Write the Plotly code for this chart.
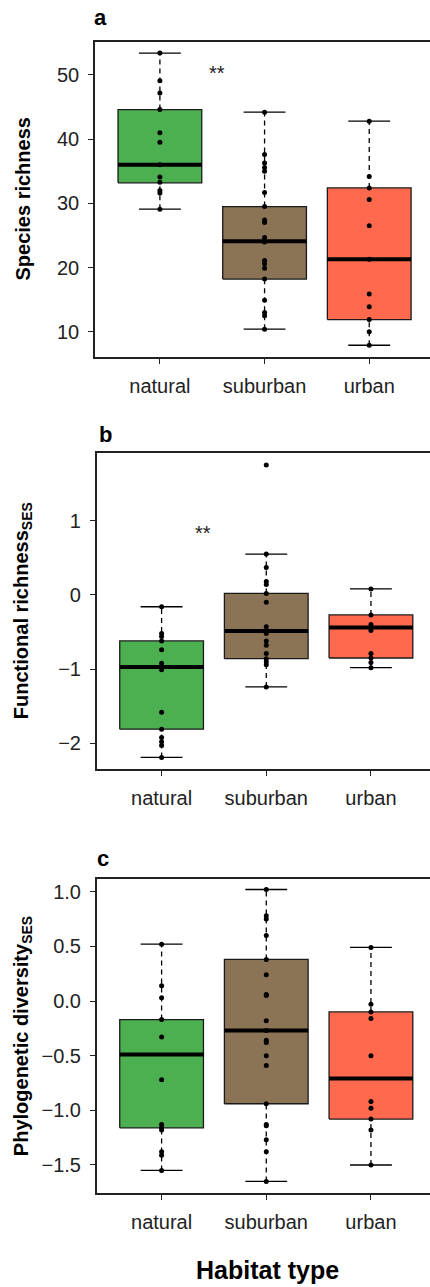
import plotly.graph_objects as go

# Habitat categories (positions 1..3 on a numeric x axis)
habitats = ["natural", "suburban", "urban"]
positions = [1, 2, 3]
fill_colors = ["#4CAF50", "#8B7355", "#FF6A4F"]

# ---- Panel a: species richness ----
rich_lower = [29.1, 10.4, 7.9]
rich_q1 = [33.2, 18.2, 11.9]
rich_median = [36.0, 24.1, 21.3]
rich_q3 = [44.6, 29.5, 32.4]
rich_upper = [53.4, 44.2, 42.8]
rich_natural = [53.4, 49.1, 47.2, 44.6, 41.0, 39.5, 36.0, 34.1, 33.3, 32.0, 31.6, 29.1]
rich_suburban = [44.2, 37.6, 36.3, 35.6, 35.0, 31.7, 29.5, 27.4, 27.0, 24.7, 24.0,
                 21.1, 20.6, 19.9, 18.2, 14.9, 13.0, 12.5, 10.4]
rich_urban = [42.8, 34.2, 32.4, 30.6, 26.5, 21.3, 15.9, 13.9, 11.9, 10.0, 7.9]

# ---- Panel b: functional richness (SES) ----
fric_lower = [-2.19, -1.24, -0.98]
fric_q1 = [-1.81, -0.86, -0.85]
fric_median = [-0.97, -0.485, -0.44]
fric_q3 = [-0.62, 0.02, -0.27]
fric_upper = [-0.16, 0.55, 0.08]
fric_natural = [-0.16, -0.52, -0.56, -0.62, -0.74, -0.92, -0.97, -1.01, -1.58,
                 -1.81, -1.92, -1.98, -2.03, -2.19]
fric_suburban = [1.75, 0.55, 0.37, 0.18, 0.14, 0.02, -0.10, -0.43, -0.49, -0.52,
                 -0.62, -0.68, -0.79, -0.86, -0.90, -0.94, -1.24]
fric_urban = [0.08, -0.27, -0.40, -0.44, -0.48, -0.79, -0.85, -0.91, -0.98]

# ---- Panel c: phylogenetic diversity (SES) ----
pd_lower = [-1.55, -1.65, -1.50]
pd_q1 = [-1.16, -0.94, -1.08]
pd_median = [-0.49, -0.27, -0.71]
pd_q3 = [-0.17, 0.38, -0.10]
pd_upper = [0.52, 1.02, 0.49]
pd_natural = [0.52, 0.14, 0.03, -0.17, -0.33, -0.72, -1.13, -1.16, -1.18, -1.38,
              -1.41, -1.55]
pd_suburban = [1.02, 0.78, 0.75, 0.60, 0.38, 0.24, 0.06, 0.05, -0.18, -0.27, -0.36,
               -0.38, -0.50, -0.59, -0.94, -1.13, -1.14, -1.27, -1.38, -1.65]
pd_urban = [0.49, -0.03, -0.10, -0.16, -0.50, -0.92, -0.98, -1.08, -1.18, -1.50]

panels = [
    dict(lower=rich_lower, q1=rich_q1, med=rich_median, q3=rich_q3, upper=rich_upper,
         points=[rich_natural, rich_suburban, rich_urban]),
    dict(lower=fric_lower, q1=fric_q1, med=fric_median, q3=fric_q3, upper=fric_upper,
         points=[fric_natural, fric_suburban, fric_urban]),
    dict(lower=pd_lower, q1=pd_q1, med=pd_median, q3=pd_q3, upper=pd_upper,
         points=[pd_natural, pd_suburban, pd_urban]),
]

W, H = 430, 1287
BOX_HALF = 0.4
CAP_HALF = 0.2
FONT = "Liberation Sans, Arial, sans-serif"

fig = go.Figure()

for p, panel in enumerate(panels):
    xa = "x" if p == 0 else f"x{p + 1}"
    ya = "y" if p == 0 else f"y{p + 1}"
    for i, c in enumerate(positions):
        lo, q1, md, q3, up = (panel["lower"][i], panel["q1"][i], panel["med"][i],
                              panel["q3"][i], panel["upper"][i])
        # dashed whiskers
        for a, b in ((q3, up), (lo, q1)):
            fig.add_trace(go.Scatter(
                x=[c, c], y=[a, b], mode="lines", xaxis=xa, yaxis=ya,
                line=dict(color="black", width=1.3, dash="5px,4px"),
                hoverinfo="skip", showlegend=False))
        # whisker caps
        for v in (lo, up):
            fig.add_trace(go.Scatter(
                x=[c - CAP_HALF, c + CAP_HALF], y=[v, v], mode="lines",
                xaxis=xa, yaxis=ya, line=dict(color="black", width=1.3),
                hoverinfo="skip", showlegend=False))
        # box body
        fig.add_trace(go.Scatter(
            x=[c - BOX_HALF, c + BOX_HALF, c + BOX_HALF, c - BOX_HALF, c - BOX_HALF],
            y=[q1, q1, q3, q3, q1], mode="lines", fill="toself",
            fillcolor=fill_colors[i], xaxis=xa, yaxis=ya,
            line=dict(color="#1a1a1a", width=1.3),
            hoverinfo="skip", showlegend=False))
        # median
        fig.add_trace(go.Scatter(
            x=[c - BOX_HALF, c + BOX_HALF], y=[md, md], mode="lines",
            xaxis=xa, yaxis=ya, line=dict(color="black", width=4),
            hoverinfo="skip", showlegend=False))
        # observations
        pts = panel["points"][i]
        fig.add_trace(go.Scatter(
            x=[c] * len(pts), y=pts, mode="markers", xaxis=xa, yaxis=ya,
            marker=dict(color="black", size=5),
            hoverinfo="skip", showlegend=False))

# axes geometry (pixels from top-left)
left_px = [95, 96.7, 96.7]
top_px = [42, 453.3, 879]
bot_px = [357, 769, 1193.3]
y_ranges = [[6.07, 55.13], [-2.346, 1.908], [-1.759, 1.116]]
y_ticks = [[10, 20, 30, 40, 50], [-2, -1, 0, 1], [-1.5, -1.0, -0.5, 0.0, 0.5, 1.0]]
y_ticktext = [["10", "20", "30", "40", "50"], ["\u22122", "\u22121", "0", "1"],
              ["\u22121.5", "\u22121.0", "\u22120.5", "0.0", "0.5", "1.0"]]
PX_PER_CAT = 104.67

axis_common = dict(showgrid=False, zeroline=False, showline=True, linecolor="#222",
                   linewidth=1.5, ticks="outside", ticklen=5, tickwidth=1.2,
                   tickcolor="#222", tickfont=dict(family=FONT, size=20, color="#222"),
                   ticklabelstandoff=5)

for p in range(3):
    sfx = "" if p == 0 else str(p + 1)
    x0 = 0.38
    x1 = x0 + (W - left_px[p]) / PX_PER_CAT
    fig.layout[f"xaxis{sfx}"] = dict(
        axis_common, domain=[left_px[p] / W, 1], range=[x0, x1],
        tickvals=positions, ticktext=habitats, mirror=True,
        anchor=f"y{sfx}")
    fig.layout[f"yaxis{sfx}"] = dict(
        axis_common, domain=[1 - bot_px[p] / H, 1 - top_px[p] / H],
        range=y_ranges[p], tickvals=y_ticks[p], ticktext=y_ticktext[p],
        mirror=False, anchor=f"x{sfx}")

annotations = []
# panel letters
for letter, x, y in (("a", 100, 18), ("b", 105, 434), ("c", 103, 858)):
    annotations.append(dict(text=f"<b>{letter}</b>", x=x / W, y=1 - y / H,
                            xref="paper", yref="paper", showarrow=False,
                            xanchor="center", yanchor="middle",
                            font=dict(family=FONT, size=22, color="black")))
# y axis titles
ytitles = ["<b>Species richness</b>", "<b>Functional richness<sub>SES</sub></b>",
           "<b>Phylogenetic diversity<sub>SES</sub></b>"]
for p, t in enumerate(ytitles):
    annotations.append(dict(text=t, x=22 / W, y=1 - (top_px[p] + bot_px[p]) / 2 / H,
                            xref="paper", yref="paper", showarrow=False,
                            textangle=-90, xanchor="center", yanchor="middle",
                            font=dict(family=FONT, size=20, color="black")))
# significance marks
annotations.append(dict(text="**", x=1.55, y=50.3, xref="x", yref="y",
                        showarrow=False, font=dict(family=FONT, size=20, color="#222")))
annotations.append(dict(text="**", x=1.40, y=0.84, xref="x2", yref="y2",
                        showarrow=False, font=dict(family=FONT, size=20, color="#222")))
# shared x title
annotations.append(dict(text="<b>Habitat type</b>", x=267 / W, y=1 - 1270 / H,
                        xref="paper", yref="paper", showarrow=False,
                        xanchor="center", yanchor="middle",
                        font=dict(family=FONT, size=25, color="black")))

fig.update_layout(width=W, height=H, margin=dict(l=0, r=0, t=0, b=0),
                  paper_bgcolor="white", plot_bgcolor="white",
                  annotations=annotations, showlegend=False)

fig.write_html("out.html")
